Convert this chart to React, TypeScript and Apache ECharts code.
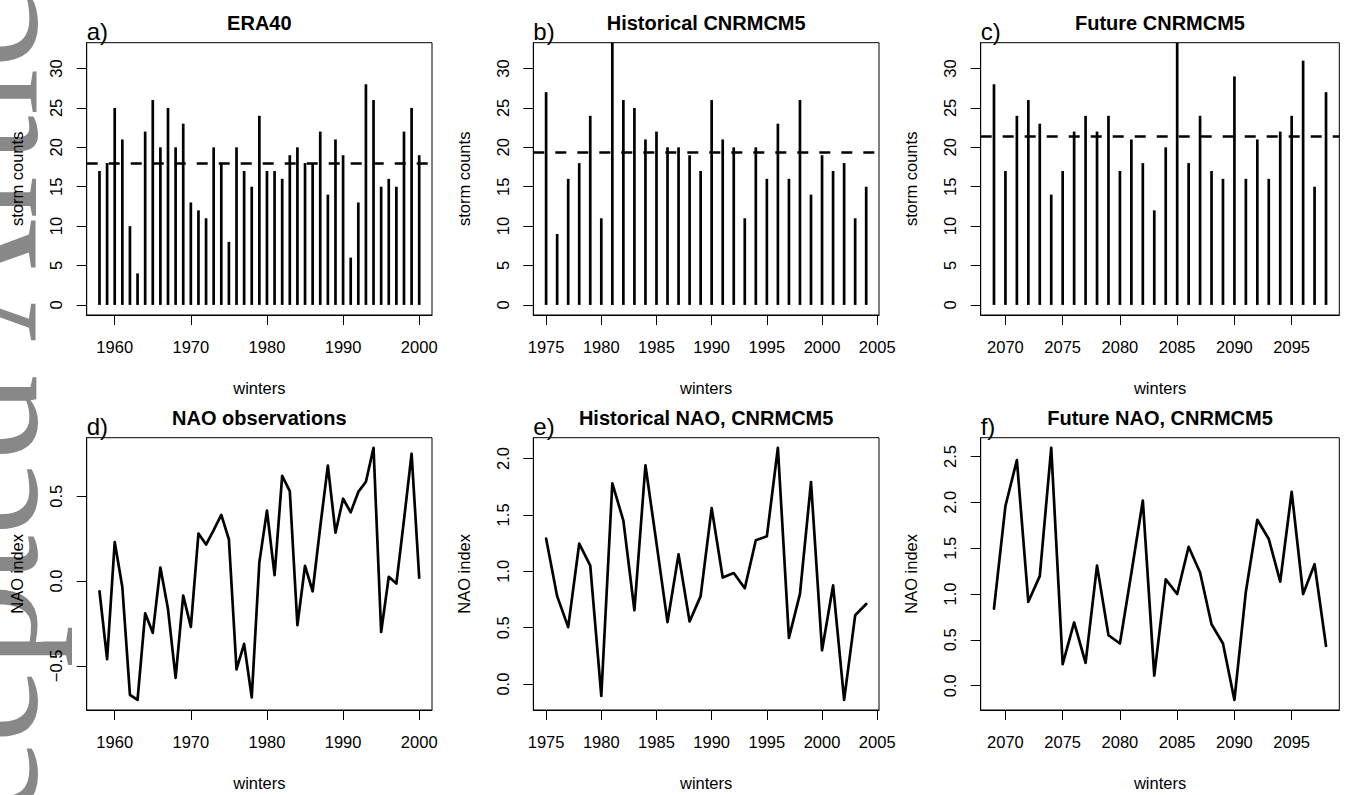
import React, { useEffect, useRef } from "react";
import * as echarts from "echarts";

// ---------------- data ----------------
const eraStartYear = 1958;
const eraCounts = [17, 18, 25, 21, 10, 4, 22, 26, 20, 25, 20, 23, 13, 12, 11, 20, 18, 8, 20, 17, 15, 24, 17, 17, 16, 19, 20, 18, 18, 22, 14, 21, 19, 6, 13, 28, 26, 15, 16, 15, 22, 25, 19];

const histStartYear = 1975;
const histCounts = [27, 9, 16, 18, 24, 11, 35, 26, 25, 21, 22, 20, 20, 19, 17, 26, 21, 20, 11, 20, 16, 23, 16, 26, 14, 19, 17, 18, 11, 15];

const futStartYear = 2069;
const futCounts = [28, 17, 24, 26, 23, 14, 17, 22, 24, 22, 24, 17, 21, 18, 12, 20, 36, 18, 24, 17, 16, 29, 16, 21, 16, 22, 24, 31, 15, 27];

const naoObs = [-0.06, -0.46, 0.23, -0.035, -0.67, -0.70, -0.19, -0.305, 0.08, -0.165, -0.57, -0.085, -0.27, 0.28, 0.215, 0.30, 0.39, 0.245, -0.52, -0.37, -0.685, 0.11, 0.415, 0.035, 0.62, 0.53, -0.26, 0.09, -0.06, 0.32, 0.68, 0.285, 0.485, 0.405, 0.525, 0.585, 0.785, -0.30, 0.025, -0.015, 0.36, 0.75, 0.02];
const naoHist = [1.29, 0.78, 0.505, 1.245, 1.05, -0.105, 1.78, 1.45, 0.655, 1.94, 1.25, 0.55, 1.15, 0.555, 0.78, 1.56, 0.945, 0.985, 0.85, 1.275, 1.31, 2.095, 0.41, 0.80, 1.79, 0.30, 0.875, -0.14, 0.61, 0.71];
const naoFut = [0.84, 1.96, 2.46, 0.915, 1.195, 2.595, 0.235, 0.69, 0.25, 1.31, 0.55, 0.46, 1.23, 2.02, 0.11, 1.16, 1.0, 1.515, 1.235, 0.67, 0.46, -0.155, 1.025, 1.81, 1.6, 1.135, 2.115, 1.0, 1.325, 0.435];

const xTicksEra = [1960, 1970, 1980, 1990, 2000];
const xTicksHist = [1975, 1980, 1985, 1990, 1995, 2000, 2005];
const xTicksFut = [2070, 2075, 2080, 2085, 2090, 2095];
const yTicksStorm = [0, 5, 10, 15, 20, 25, 30];
const yTicksObs = [-0.5, 0, 0.5];
const yTicksHist = [0, 0.5, 1.0, 1.5, 2.0];
const yTicksFut = [0, 0.5, 1.0, 1.5, 2.0, 2.5];
const stormLimits = [0, 32];

const titles = ["ERA40", "Historical CNRMCM5", "Future CNRMCM5", "NAO observations", "Historical NAO, CNRMCM5", "Future NAO, CNRMCM5"];
const panelTags = ["a)", "b)", "c)", "d)", "e)", "f)"];

// ---------------- layout ----------------
const FONT = '"Liberation Sans", Arial, Helvetica, sans-serif';
const cols = [
  { left: 86.7, width: 345.3 },
  { left: 533.3, width: 345.7 },
  { left: 980.7, width: 358.6 },
];
const rows = [
  { top: 42.7, height: 272.3 },
  { top: 437.7, height: 272.3 },
];

function years(start: number, n: number) {
  const out: number[] = [];
  for (let i = 0; i < n; i++) out.push(start + i);
  return out;
}
function pad(lo: number, hi: number) {
  const d = (hi - lo) * 0.04;
  return [lo - d, hi + d];
}
function fmtY(v: number, decimals: number) {
  const s = Math.abs(v).toFixed(decimals);
  return v < 0 ? "\u2212" + s : s;
}

export default function App() {
  const ref = useRef<HTMLDivElement>(null);

  useEffect(() => {
    if (!ref.current) return;
    const chart = echarts.init(ref.current, undefined, { renderer: "svg" });

    const panels = [
      { kind: "bar", start: eraStartYear, vals: eraCounts, xt: xTicksEra, yt: yTicksStorm, dec: 0, ylab: "storm counts" },
      { kind: "bar", start: histStartYear, vals: histCounts, xt: xTicksHist, yt: yTicksStorm, dec: 0, ylab: "storm counts" },
      { kind: "bar", start: futStartYear, vals: futCounts, xt: xTicksFut, yt: yTicksStorm, dec: 0, ylab: "storm counts" },
      { kind: "line", start: eraStartYear, vals: naoObs, xt: xTicksEra, yt: yTicksObs, dec: 1, ylab: "NAO index" },
      { kind: "line", start: histStartYear, vals: naoHist, xt: xTicksHist, yt: yTicksHist, dec: 1, ylab: "NAO index" },
      { kind: "line", start: futStartYear, vals: naoFut, xt: xTicksFut, yt: yTicksFut, dec: 1, ylab: "NAO index" },
    ];

    const grids: any[] = [];
    const xAxes: any[] = [];
    const yAxes: any[] = [];
    const series: any[] = [];
    const graphics: any[] = [];

    graphics.push({
      type: "text",
      x: -21,
      y: 1017,
      rotation: Math.PI / 2,
      z: -10,
      silent: true,
      style: {
        text: "Accepted Article",
        font: '170px "Liberation Serif", "Times New Roman", serif',
        fill: "#888888",
        textAlign: "left",
        textVerticalAlign: "middle",
      },
    });

    panels.forEach((p, i) => {
      const col = cols[i % 3];
      const row = rows[Math.floor(i / 3)];
      const yrs = years(p.start, p.vals.length);
      const [xmin, xmax] = pad(yrs[0], yrs[yrs.length - 1]);
      let ymin: number, ymax: number;
      if (p.kind === "bar") {
        [ymin, ymax] = pad(stormLimits[0], stormLimits[1]);
      } else {
        [ymin, ymax] = pad(Math.min(...p.vals), Math.max(...p.vals));
      }

      grids.push({
        left: col.left,
        top: row.top,
        width: col.width,
        height: row.height,
        show: true,
        borderColor: "#000",
        borderWidth: 1,
        backgroundColor: "transparent",
        containLabel: false,
        outerBoundsMode: "none",
      });

      xAxes.push({
        type: "value",
        gridIndex: i,
        min: xmin,
        max: xmax,
        axisLine: { show: true, onZero: false, lineStyle: { color: "#000", width: 1 } },
        axisTick: { show: true, length: 10, customValues: p.xt, lineStyle: { color: "#000", width: 1 } },
        axisLabel: { customValues: p.xt, margin: 23.5, color: "#000", fontSize: 16.5, fontFamily: FONT, formatter: (v: number) => String(v) },
        splitLine: { show: false },
        name: "winters",
        nameLocation: "middle",
        nameGap: 64,
        nameTextStyle: { color: "#000", fontSize: 16.5, fontFamily: FONT },
      });

      yAxes.push({
        type: "value",
        gridIndex: i,
        min: ymin,
        max: ymax,
        axisLine: { show: true, onZero: false, lineStyle: { color: "#000", width: 1 } },
        axisTick: { show: true, length: 10, customValues: p.yt, lineStyle: { color: "#000", width: 1 } },
        axisLabel: {
          customValues: p.yt,
          rotate: 90,
          margin: 22,
          color: "#000",
          fontSize: 16.5,
          fontFamily: FONT,
          formatter: (v: number) => fmtY(v, p.dec),
        },
        splitLine: { show: false },
        name: p.ylab,
        nameLocation: "middle",
        nameGap: 61,
        nameTextStyle: { color: "#000", fontSize: 16.5, fontFamily: FONT },
      });

      const data = yrs.map((y, k) => [y, p.vals[k]]);
      if (p.kind === "bar") {
        const mean = p.vals.reduce((a, b) => a + b, 0) / p.vals.length;
        series.push({
          type: "bar",
          xAxisIndex: i,
          yAxisIndex: i,
          data,
          barWidth: 2.7,
          clip: true,
          itemStyle: { color: "#000" },
          markLine: {
            silent: true,
            symbol: ["none", "none"],
            label: { show: false },
            lineStyle: { color: "#000", width: 2.7, type: [11, 11] },
            data: [{ yAxis: mean }],
          },
        });
      } else {
        series.push({
          type: "line",
          xAxisIndex: i,
          yAxisIndex: i,
          data,
          symbol: "none",
          showSymbol: false,
          clip: true,
          lineStyle: { color: "#000", width: 2.7, join: "round", cap: "round" },
        });
      }

      const cx = col.left + col.width / 2;
      graphics.push({
        type: "text",
        x: cx,
        y: row.top - 19.4,
        style: {
          text: titles[i],
          font: `bold 20px ${FONT}`,
          fill: "#000",
          textAlign: "center",
          textVerticalAlign: "middle",
        },
      });
      graphics.push({
        type: "text",
        x: col.left,
        y: row.top - 11.5,
        style: {
          text: panelTags[i],
          font: `24px ${FONT}`,
          fill: "#000",
          textAlign: "left",
          textVerticalAlign: "middle",
        },
      });
    });

    chart.setOption({
      animation: false,
      backgroundColor: "#fff",
      textStyle: { fontFamily: FONT },
      grid: grids,
      xAxis: xAxes,
      yAxis: yAxes,
      series,
      graphic: { elements: graphics },
    });

    return () => chart.dispose();
  }, []);

  return (
    <div
      ref={ref}
      style={{ position: "fixed", left: 0, top: 0, width: 1349, height: 795, background: "#fff" }}
    />
  );
}
